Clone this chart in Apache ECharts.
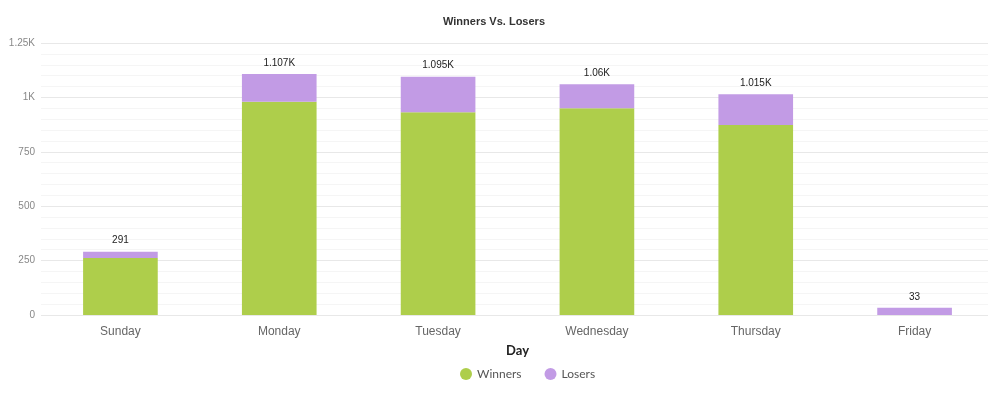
<!DOCTYPE html>
<html>
<head>
<meta charset="utf-8">
<script src="https://cdn.jsdelivr.net/npm/echarts@6/dist/echarts.min.js"></script>
<style>
  html, body { margin: 0; padding: 0; background: #fff; }
  #chart { width: 988px; height: 399px; }
</style>
</head>
<body>
<div id="chart"></div>
<script>
var days = ['Sunday', 'Monday', 'Tuesday', 'Wednesday', 'Thursday', 'Friday'];
var winners = [262, 980, 932, 950, 873, 0];
var losers = [29, 127, 163, 110, 142, 33];

function kFormat(v) {
    return v >= 1000 ? (v / 1000) + 'K' : String(v);
}

var myChart = echarts.init(document.getElementById('chart'));
var option = {
    title: {
        text: 'Winners Vs. Losers',
        left: 'center',
        top: 11,
        textStyle: { color: '#333', fontSize: 11, fontWeight: 'bold', fontFamily: 'Liberation Sans' }
    },
    legend: {
        left: 455,
        bottom: 14,
        icon: 'circle',
        itemWidth: 12,
        itemHeight: 12,
        itemGap: 23,
        textStyle: { color: '#555', fontSize: 12, fontFamily: 'Lato' },
        data: ['Winners', 'Losers']
    },
    grid: { left: 41, width: 953, top: 43, bottom: 84, outerBoundsMode: 'none', containLabel: false },
    xAxis: {
        type: 'category',
        data: days,
        name: 'Day',
        nameLocation: 'middle',
        nameGap: 29,
        nameTextStyle: { color: '#222', fontSize: 13, fontWeight: 'bold', fontFamily: 'Lato' },
        axisLine: { show: false },
        axisTick: { show: false },
        axisLabel: { color: '#666', fontSize: 12, margin: 11, fontFamily: 'Liberation Sans' }
    },
    yAxis: {
        type: 'value',
        min: 0,
        max: 1250,
        interval: 250,
        axisLine: { show: false },
        axisTick: { show: false },
        axisLabel: { color: '#888', fontSize: 10, margin: 6, formatter: kFormat, fontFamily: 'Liberation Sans' },
        splitLine: { lineStyle: { color: '#e8e8e8' } },
        minorTick: { show: false, splitNumber: 5 },
        minorSplitLine: { show: true, lineStyle: { color: '#f5f5f5' } }
    },
    series: [
        {
            name: 'Winners',
            type: 'bar',
            stack: 'total',
            barWidth: '47%',
            itemStyle: { color: '#aece4b' },
            data: winners
        },
        {
            name: 'Losers',
            type: 'bar',
            stack: 'total',
            itemStyle: { color: '#c29be5' },
            label: {
                show: true,
                position: 'top',
                distance: 6,
                color: '#222',
                fontSize: 10,
                fontFamily: 'Liberation Sans',
                formatter: function (p) {
                    return kFormat(winners[p.dataIndex] + losers[p.dataIndex]);
                }
            },
            data: losers
        }
    ]
};
myChart.setOption(option);
</script>
</body>
</html>
